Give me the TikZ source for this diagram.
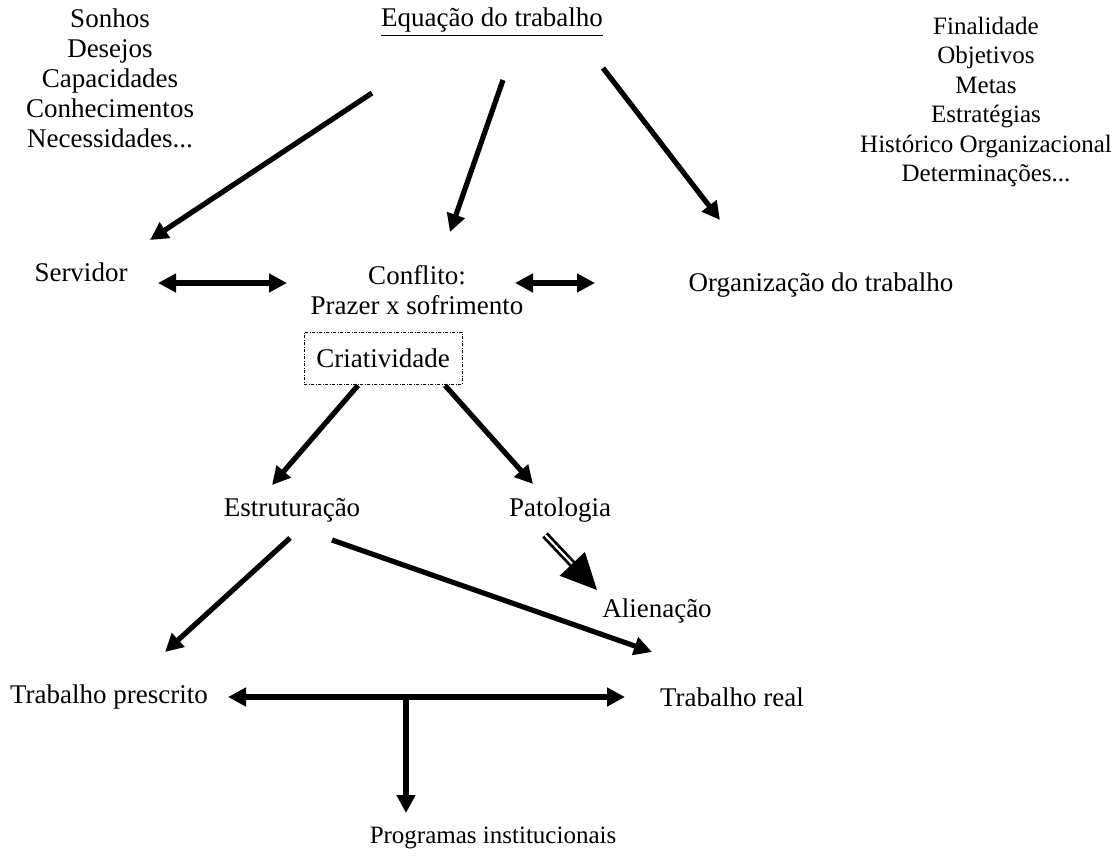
\documentclass[tikz,border=0pt]{standalone}
\usepackage{fontspec}
\setmainfont{Liberation Serif}
\usepackage{tikz}
\usetikzlibrary{arrows.meta,calc}

\begin{document}
\begin{tikzpicture}[x=0.5pt,y=-0.5pt]
    \tikzstyle{txt}=[align=center,inner sep=0pt,font=\fontsize{13.5pt}{15pt}\selectfont]  % plain text
    \tikzstyle{smalltxt}=[txt,font=\fontsize{12.5pt}{14.7pt}\selectfont]  % a bit smaller
    \tikzstyle{dotbox}=[txt,draw,line width=0.4pt,minimum width=79pt,minimum height=26pt,
        dash pattern=on 1.5pt off 0.8pt on 0.4pt off 0.8pt]  % box round Criatividade
    \tikzstyle{arr}=[line width=2.6pt,-{Triangle[length=9pt,width=9pt]}]  % thick arrow
    \tikzstyle{darr}=[line width=2.6pt,{Triangle[length=9pt,width=9pt]}-{Triangle[length=9pt,width=9pt]}]  % both ways
    \tikzstyle{hollow}=[double,line width=1.4pt,double distance=1pt,-{Triangle[length=18pt,width=17pt]}]

    \useasboundingbox (0,0) rectangle (1116,862);

    % texts
    \node[txt](eq) at (492,22){\underline{Equação do trabalho}};
    \node[txt](self) at (110,78){Sonhos\\Desejos\\Capacidades\\Conhecimentos\\Necessidades...};
    \node[smalltxt](goals) at (986,102){Finalidade\\Objetivos\\Metas\\Estratégias\\Histórico Organizacional\\Determinações...};
    \node[txt](serv) at (81,272){Servidor};
    \node[txt](conf) at (417,290){Conflito:\\Prazer x sofrimento};
    \node[txt](org) at (821,285){Organização do trabalho};
    \node[dotbox](crea) at (383,358){Criatividade};
    \node[txt](estr) at (292,510){Estruturação};
    \node[txt](pat) at (560,510){Patologia};
    \node[txt](alien) at (657,611){Alienação};
    \node[txt](presc) at (109,697){Trabalho prescrito};
    \node[txt](real) at (732,697){Trabalho real};
    \node[smalltxt](prog) at (493,838){Programas institucionais};
    \coordinate (junc) at (406,697);

    % arrows
    \draw[arr] ($(eq)+(-120,71)$) -- ($(serv)+(69,-32)$);
    \draw[arr] ($(eq)+(11,58)$) -- ($(conf)+(33,-58)$);
    \draw[arr] ($(eq)+(111,46)$) -- ($(org)+(-101,-65)$);
    \draw[darr] ($(serv)+(77,11)$) -- ($(conf)+(-130,-7)$);
    \draw[darr] ($(conf)+(98,-7)$) -- ($(org)+(-226,-2)$);
    \draw[arr] ($(crea.south)+(-25,1)$) -- ($(estr)+(-20,-25)$);
    \draw[arr] ($(crea.south)+(62,1)$) -- ($(pat)+(-27,-26)$);
    \draw[hollow] ($(pat)+(-15,25)$) -- ($(alien)+(-60,-21)$);
    \draw[arr] ($(estr)+(-2,28)$) -- ($(presc)+(56,-45)$);
    \draw[arr] ($(estr)+(40,30)$) -- ($(real)+(-80,-45)$);
    \draw[darr] ($(presc)+(119,0)$) -- ($(real)+(-107,0)$);
    \draw[arr] (junc) -- ($(prog)+(-87,-25)$);
\end{tikzpicture}
\end{document}
